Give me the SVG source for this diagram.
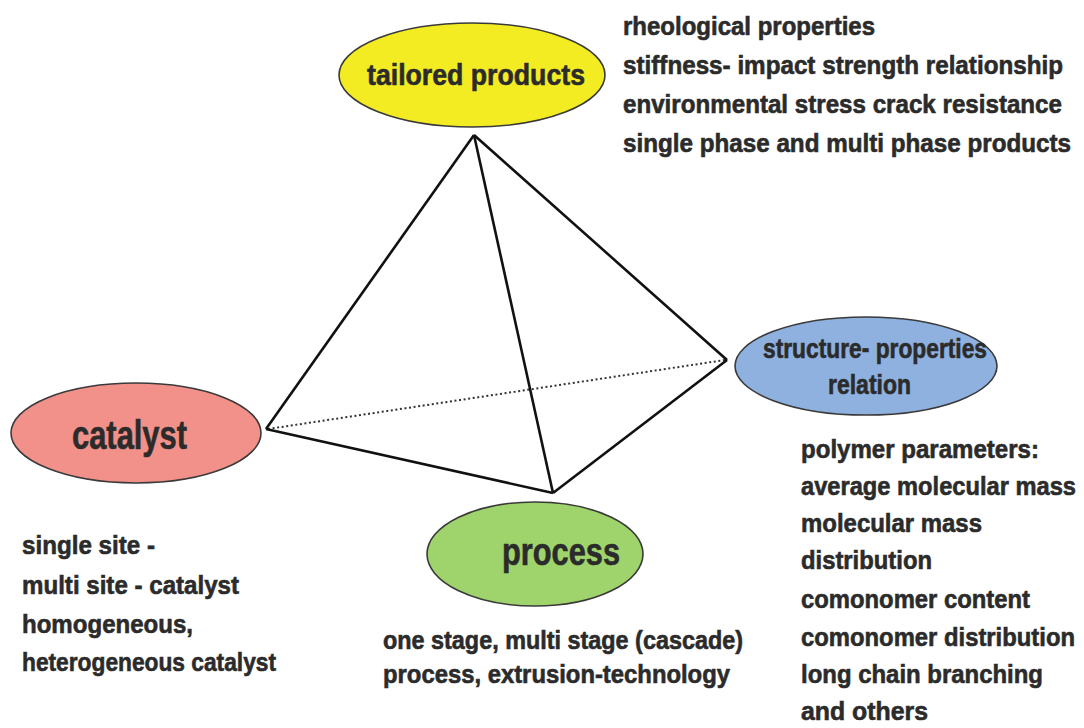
<svg xmlns="http://www.w3.org/2000/svg" width="1084" height="728" viewBox="0 0 1084 728">
<style>
text{font-family:"Liberation Sans",Arial,sans-serif;font-weight:bold;fill:#2b2b2b;stroke:#2b2b2b;stroke-width:0.6}
.node{stroke:#3a3a3a;stroke-width:1.6}
.edge{stroke:#111;stroke-width:2.6;fill:none;stroke-linejoin:round}
.hidden{stroke:#333;stroke-width:2;stroke-dasharray:2 2.6;fill:none}
.note{font-size:26px}
</style>
<rect width="1084" height="728" fill="#fff"/>
<g id="connectors">
<line class="hidden" x1="268" y1="429" x2="725" y2="360"/>
<line class="edge" x1="474" y1="135" x2="266" y2="429"/>
<line class="edge" x1="474" y1="135" x2="727" y2="360"/>
<line class="edge" x1="474" y1="135" x2="553" y2="493"/>
<line class="edge" x1="266" y1="429" x2="553" y2="493"/>
<line class="edge" x1="727" y1="360" x2="553" y2="493"/>
</g>
<g id="tailored-products">
<ellipse class="node" cx="472" cy="75" rx="133" ry="52" fill="#f3ec22"/>
<text x="367" y="85" font-size="30" textLength="218" lengthAdjust="spacingAndGlyphs">tailored products</text>
</g>
<g id="structure-properties">
<ellipse class="node" cx="866" cy="366" rx="131" ry="49" fill="#8fb1e0"/>
<text x="763" y="358" font-size="27" textLength="224" lengthAdjust="spacingAndGlyphs">structure- properties</text>
<text x="828" y="394" font-size="27" textLength="83" lengthAdjust="spacingAndGlyphs">relation</text>
</g>
<g id="catalyst">
<ellipse class="node" cx="136" cy="433" rx="125" ry="50" fill="#f2918a"/>
<text x="72" y="449" font-size="40" textLength="115" lengthAdjust="spacingAndGlyphs">catalyst</text>
</g>
<g id="process">
<ellipse class="node" cx="535" cy="554" rx="108" ry="52" fill="#9fd46c"/>
<text x="502" y="565" font-size="38" textLength="118" lengthAdjust="spacingAndGlyphs">process</text>
</g>
<g id="notes-tailored" class="note">
<text x="623" y="35" textLength="252" lengthAdjust="spacingAndGlyphs">rheological properties</text>
<text x="623" y="74" textLength="440" lengthAdjust="spacingAndGlyphs">stiffness- impact strength relationship</text>
<text x="623" y="113" textLength="439" lengthAdjust="spacingAndGlyphs">environmental stress crack resistance</text>
<text x="623" y="152" textLength="448" lengthAdjust="spacingAndGlyphs">single phase and multi phase products</text>
</g>
<g id="notes-structure" class="note">
<text x="801" y="458" textLength="238" lengthAdjust="spacingAndGlyphs">polymer parameters:</text>
<text x="801" y="495" textLength="275" lengthAdjust="spacingAndGlyphs">average molecular mass</text>
<text x="801" y="532" textLength="181" lengthAdjust="spacingAndGlyphs">molecular mass</text>
<text x="801" y="569" textLength="131" lengthAdjust="spacingAndGlyphs">distribution</text>
<text x="801" y="608" textLength="229" lengthAdjust="spacingAndGlyphs">comonomer content</text>
<text x="801" y="646" textLength="274" lengthAdjust="spacingAndGlyphs">comonomer distribution</text>
<text x="801" y="683" textLength="242" lengthAdjust="spacingAndGlyphs">long chain branching</text>
<text x="801" y="720" textLength="127" lengthAdjust="spacingAndGlyphs">and others</text>
</g>
<g id="notes-catalyst" class="note">
<text x="22" y="554" textLength="133" lengthAdjust="spacingAndGlyphs">single site -</text>
<text x="22" y="594" textLength="217" lengthAdjust="spacingAndGlyphs">multi site - catalyst</text>
<text x="22" y="633" textLength="171" lengthAdjust="spacingAndGlyphs">homogeneous,</text>
<text x="22" y="671" textLength="254" lengthAdjust="spacingAndGlyphs">heterogeneous catalyst</text>
</g>
<g id="notes-process" class="note">
<text x="383" y="649" textLength="360" lengthAdjust="spacingAndGlyphs">one stage, multi stage (cascade)</text>
<text x="383" y="683" textLength="347" lengthAdjust="spacingAndGlyphs">process, extrusion-technology</text>
</g>
</svg>
